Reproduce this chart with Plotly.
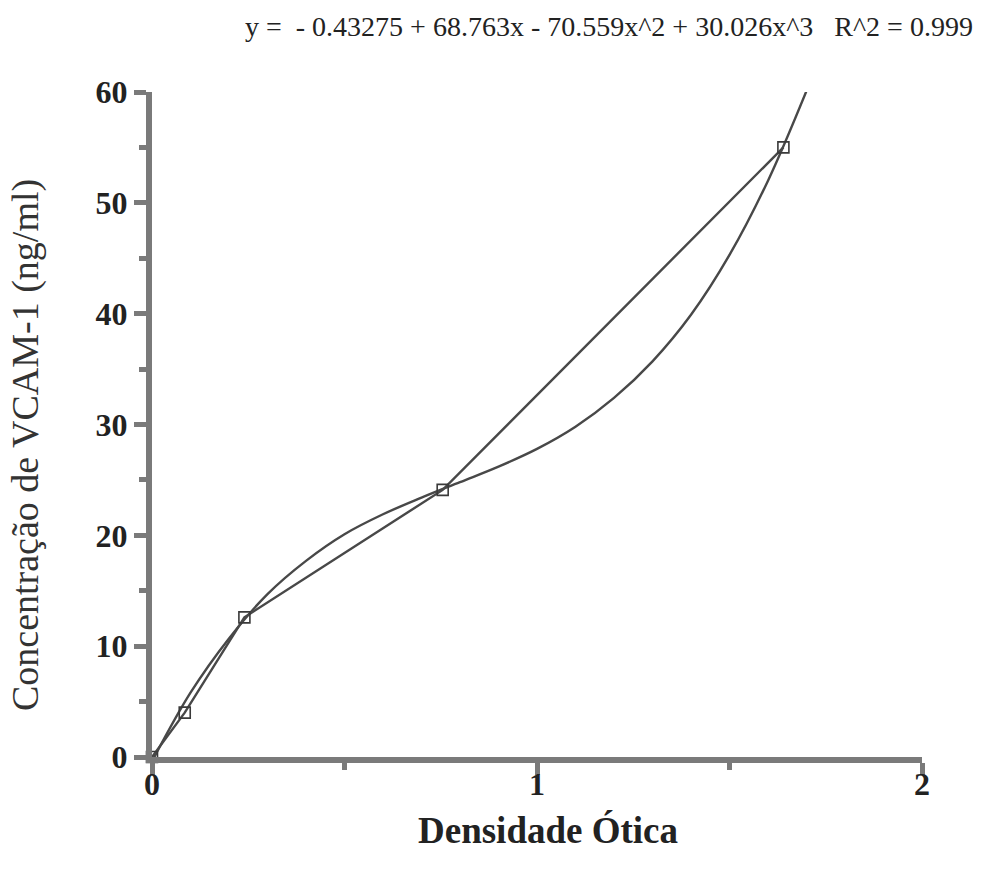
import plotly.graph_objects as go

# Measured standards (optical density vs concentration)
od_points = [0.0, 0.085, 0.24, 0.755, 1.64]
conc_points = [0.0, 4.0, 12.6, 24.1, 55.0]

# Fitted cubic curve
curve_x = [0.0, 0.1, 0.2, 0.3, 0.4, 0.5, 0.6, 0.7, 0.8, 0.9, 1.0, 1.1, 1.2, 1.3, 1.4, 1.5, 1.6, 1.7]
curve_y = [-0.4, 5.8, 10.7, 14.7, 17.7, 20.1, 21.9, 23.4, 24.8, 26.2, 27.8, 29.8, 32.4, 35.7, 39.9, 45.3, 52.0, 60.1]

x_ticks = [0, 1, 2]
x_minor = [0.5, 1.5]
y_ticks = [0, 10, 20, 30, 40, 50, 60]

title_text = "y =  - 0.43275 + 68.763x - 70.559x^2 + 30.026x^3   R^2 = 0.999"
x_title = "Densidade Ótica"
y_title = "Concentração de VCAM-1 (ng/ml)"

SERIF = "Liberation Serif, Times New Roman, serif"
AX = "#7a7a7a"
INK = "#484848"

fig = go.Figure()
fig.add_trace(go.Scatter(
    x=curve_x, y=curve_y, mode="lines", line=dict(color=INK, width=2.4, shape="spline"),
    hoverinfo="skip", showlegend=False))
fig.add_trace(go.Scatter(
    x=od_points, y=conc_points, mode="lines+markers",
    line=dict(color=INK, width=2.4),
    marker=dict(symbol="square-open", size=11, color="#3a3a3a", line=dict(width=1.6)),
    cliponaxis=False, showlegend=False))

fig.update_layout(
    width=987, height=869,
    margin=dict(l=152, r=65, t=92, b=112),
    paper_bgcolor="white", plot_bgcolor="white",
    font=dict(family=SERIF, color="#222"),
    showlegend=False,
)
fig.update_xaxes(
    range=[0, 2], tickvals=x_ticks, ticktext=[str(v) for v in x_ticks],
    showgrid=False, zeroline=False, showline=True, linecolor=AX, linewidth=6,
    ticks="outside", ticklen=12, tickwidth=5, tickcolor=AX,
    minor=dict(tickvals=x_minor, ticks="outside", ticklen=7, tickwidth=5, tickcolor=AX),
    tickfont=dict(family=SERIF, size=32, color="#222", weight="bold"),
    ticklabelstandoff=-18,
)
fig.update_yaxes(
    range=[0, 60], tickvals=y_ticks, ticktext=[str(v) for v in y_ticks],
    showgrid=False, zeroline=False, showline=True, linecolor=AX, linewidth=6,
    ticks="outside", ticklen=12, tickwidth=5, tickcolor=AX,
    minor=dict(dtick=5, ticks="outside", ticklen=7, tickwidth=5, tickcolor=AX),
    tickfont=dict(family=SERIF, size=32, color="#222", weight="bold"),
)

fig.add_annotation(text=title_text, xref="paper", yref="paper", x=1.0688, y=1.098,
                   xanchor="right", yanchor="middle", showarrow=False,
                   font=dict(family=SERIF, size=28, color="#222"))
fig.add_annotation(text="<b>" + x_title + "</b>", xref="paper", yref="paper", x=0.514, y=-0.111,
                   xanchor="center", yanchor="middle", showarrow=False,
                   font=dict(family=SERIF, size=37, color="#222"))
fig.add_annotation(text=y_title, xref="paper", yref="paper", x=-0.165, y=0.469,
                   xanchor="center", yanchor="middle", textangle=-90, showarrow=False,
                   font=dict(family=SERIF, size=38, color="#333"))

fig.write_html("out.html")
